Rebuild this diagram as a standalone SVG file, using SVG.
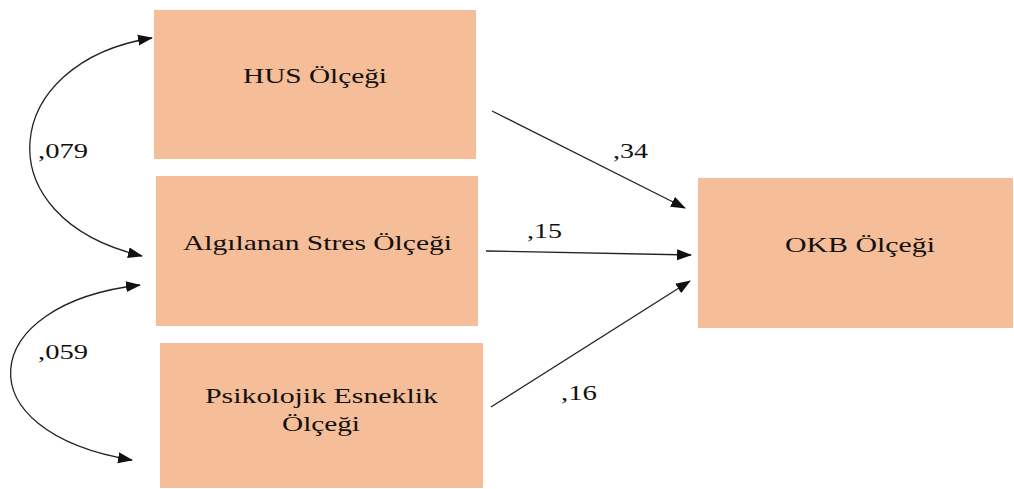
<svg xmlns="http://www.w3.org/2000/svg" width="1014" height="489" viewBox="0 0 1014 489">
<defs>
<marker id="ah" markerUnits="userSpaceOnUse" markerWidth="16" markerHeight="12" refX="14" refY="6" orient="auto-start-reverse" viewBox="0 0 16 12">
<path d="M0,0.5 L15,6 L0,11.5 Z" fill="#111"/>
</marker>
<style>
.box{fill:#F5BD98;}
.t{font-family:"Liberation Serif","Times New Roman",serif;font-size:22px;fill:#111;}
.c{fill:none;stroke:#222;stroke-width:1.3;}
</style>
</defs>
<rect width="1014" height="489" fill="#fff"/>
<g id="connectors">
<path class="c" d="M492,111 L685,208" marker-end="url(#ah)"/>
<path class="c" d="M486,251 L691,255" marker-end="url(#ah)"/>
<path class="c" d="M491,407 L690,281" marker-end="url(#ah)"/>
<path class="c" d="M152,38 C0,62 -18,218 142,256" marker-start="url(#ah)" marker-end="url(#ah)"/>
<path class="c" d="M140,285 C-24,304 -38,432 132,460" marker-start="url(#ah)" marker-end="url(#ah)"/>
<text class="t" x="613" y="158" textLength="35" lengthAdjust="spacingAndGlyphs">,34</text>
<text class="t" x="527" y="238" textLength="35" lengthAdjust="spacingAndGlyphs">,15</text>
<text class="t" x="561" y="400" textLength="36" lengthAdjust="spacingAndGlyphs">,16</text>
<text class="t" x="38" y="158" textLength="50" lengthAdjust="spacingAndGlyphs">,079</text>
<text class="t" x="38" y="359" textLength="50" lengthAdjust="spacingAndGlyphs">,059</text>
</g>
<g id="hus">
<rect class="box" x="154" y="10" width="322" height="149"/>
<text class="t" x="243" y="83" textLength="144" lengthAdjust="spacingAndGlyphs">HUS Ölçeği</text>
</g>
<g id="stres">
<rect class="box" x="156" y="176" width="322" height="150"/>
<text class="t" x="183" y="250" textLength="269" lengthAdjust="spacingAndGlyphs">Algılanan Stres Ölçeği</text>
</g>
<g id="psikolojik">
<rect class="box" x="160" y="343" width="323" height="145"/>
<text class="t" x="205" y="403" textLength="233" lengthAdjust="spacingAndGlyphs">Psikolojik Esneklik</text>
<text class="t" x="282" y="431" textLength="78" lengthAdjust="spacingAndGlyphs">Ölçeği</text>
</g>
<g id="okb">
<rect class="box" x="698" y="178" width="315" height="150"/>
<text class="t" x="785" y="252" textLength="150" lengthAdjust="spacingAndGlyphs">OKB Ölçeği</text>
</g>
</svg>
